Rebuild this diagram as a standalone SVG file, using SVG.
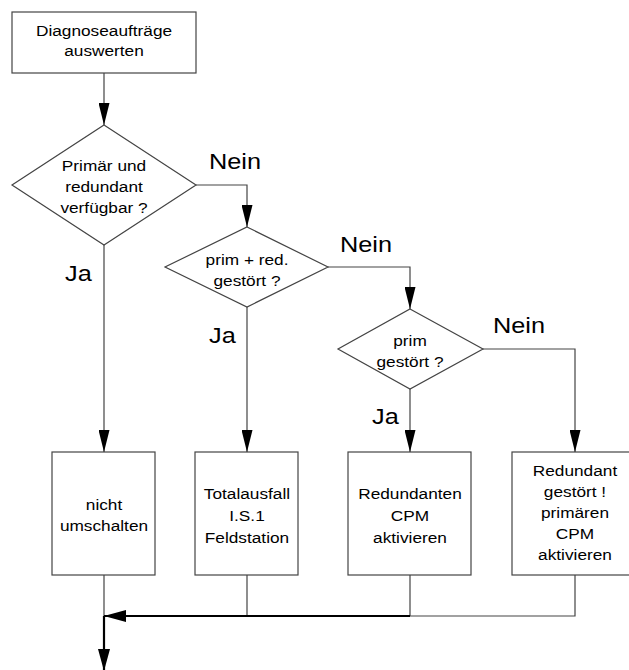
<svg xmlns="http://www.w3.org/2000/svg" width="629" height="670" viewBox="0 0 629 670">
<style>
.box{fill:#fff;stroke:#444;stroke-width:1.2}
.t{font-family:"Liberation Sans",Arial,sans-serif;font-size:15px;fill:#000;text-anchor:middle}
.lbl{font-family:"Liberation Sans",Arial,sans-serif;font-size:22px;fill:#000;text-anchor:start}
.c{fill:none;stroke:#444;stroke-width:1.2}
.thick{fill:none;stroke:#000;stroke-width:2.2}
</style>
<defs>
<marker id="ah" markerUnits="userSpaceOnUse" markerWidth="22" markerHeight="11" refX="22" refY="5.5" orient="auto" viewBox="0 0 22 11">
<path d="M0,0 L22,5.5 L0,11 z" fill="#000"/>
</marker>
<marker id="ahb" markerUnits="userSpaceOnUse" markerWidth="22" markerHeight="12" refX="22" refY="6" orient="auto" viewBox="0 0 22 12">
<path d="M0,0 L22,6 L0,12 z" fill="#000"/>
</marker>
</defs>
<g id="start">
<rect class="box" x="12" y="12" width="184" height="61"/>
<text class="t" transform="translate(104 0) scale(1.15 1)"><tspan x="0" y="36">Diagnoseaufträge</tspan><tspan x="0" y="56">auswerten</tspan></text>
</g>
<g id="d1">
<polygon class="box" points="104,125 196,185 104,245 12,185"/>
<text class="t" transform="translate(104 0) scale(1.15 1)"><tspan x="0" y="171">Primär und</tspan><tspan x="0" y="192">redundant</tspan><tspan x="0" y="213">verfügbar ?</tspan></text>
</g>
<g id="d2">
<polygon class="box" points="247,227 328,267 247,307 165,267"/>
<text class="t" transform="translate(247 0) scale(1.15 1)"><tspan x="0" y="265">prim + red.</tspan><tspan x="0" y="286">gestört ?</tspan></text>
</g>
<g id="d3">
<polygon class="box" points="410,309 483,349 410,389 338,349"/>
<text class="t" transform="translate(410 0) scale(1.15 1)"><tspan x="0" y="346">prim</tspan><tspan x="0" y="367">gestört ?</tspan></text>
</g>
<g id="b1">
<rect class="box" x="52" y="452" width="103" height="123"/>
<text class="t" transform="translate(104 0) scale(1.15 1)"><tspan x="0" y="510">nicht</tspan><tspan x="0" y="531">umschalten</tspan></text>
</g>
<g id="b2">
<rect class="box" x="195" y="452" width="103" height="123"/>
<text class="t" transform="translate(247 0) scale(1.15 1)"><tspan x="0" y="499">Totalausfall</tspan><tspan x="0" y="521">I.S.1</tspan><tspan x="0" y="543">Feldstation</tspan></text>
</g>
<g id="b3">
<rect class="box" x="348" y="452" width="123" height="123"/>
<text class="t" transform="translate(410 0) scale(1.15 1)"><tspan x="0" y="499">Redundanten</tspan><tspan x="0" y="521">CPM</tspan><tspan x="0" y="543">aktivieren</tspan></text>
</g>
<g id="b4">
<rect class="box" x="512" y="452" width="126" height="123"/>
<text class="t" transform="translate(575 0) scale(1.15 1)"><tspan x="0" y="476">Redundant</tspan><tspan x="0" y="497">gestört !</tspan><tspan x="0" y="518">primären</tspan><tspan x="0" y="539">CPM</tspan><tspan x="0" y="560">aktivieren</tspan></text>
</g>
<g id="connectors">
<path class="c" d="M104,73 V125" marker-end="url(#ah)"/>
<path class="c" d="M196,185 H247 V227" marker-end="url(#ah)"/>
<path class="c" d="M328,267 H410 V309" marker-end="url(#ah)"/>
<path class="c" d="M483,349 H575 V452" marker-end="url(#ah)"/>
<path class="c" d="M104,245 V452" marker-end="url(#ah)"/>
<path class="c" d="M247,307 V452" marker-end="url(#ah)"/>
<path class="c" d="M410,389 V452" marker-end="url(#ah)"/>
<path class="c" d="M104,575 V616"/>
<path class="c" d="M247,575 V616"/>
<path class="c" d="M410,575 V616"/>
<path class="c" d="M575,575 V616 H410"/>
<path class="thick" d="M410,616 H104" marker-end="url(#ahb)"/>
<path class="thick" d="M104,616 V671" marker-end="url(#ahb)"/>
<text class="lbl" transform="translate(209 0) scale(1.15 1)" x="0" y="169">Nein</text>
<text class="lbl" transform="translate(340 0) scale(1.15 1)" x="0" y="252">Nein</text>
<text class="lbl" transform="translate(493 0) scale(1.15 1)" x="0" y="333">Nein</text>
<text class="lbl" transform="translate(65 0) scale(1.15 1)" x="0" y="281">Ja</text>
<text class="lbl" transform="translate(209 0) scale(1.15 1)" x="0" y="343">Ja</text>
<text class="lbl" transform="translate(372 0) scale(1.15 1)" x="0" y="424">Ja</text>
</g>
</svg>
